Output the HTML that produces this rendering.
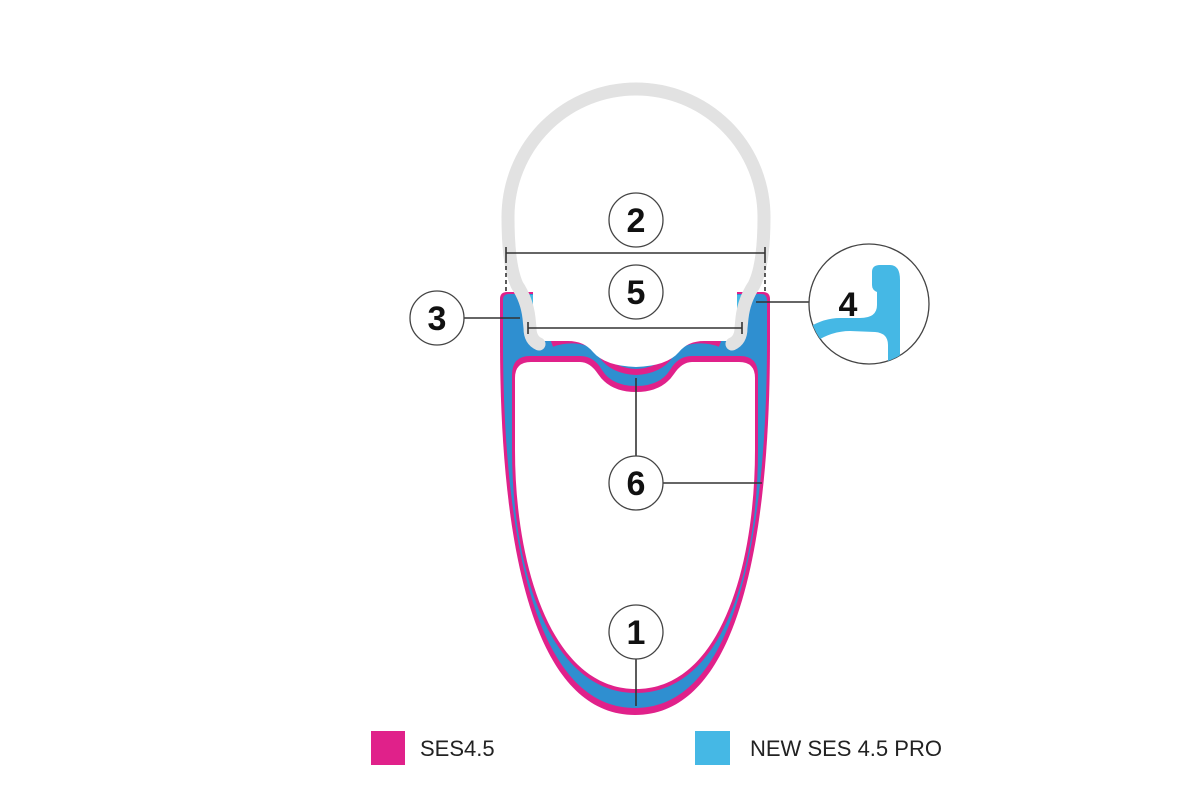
<!DOCTYPE html>
<html><head><meta charset="utf-8"><style>
html,body{margin:0;padding:0;background:#fff;}
svg{display:block}
</style></head><body>
<svg width="1200" height="800" viewBox="0 0 1200 800" xmlns="http://www.w3.org/2000/svg">
<defs><clipPath id="c4"><circle cx="869" cy="304" r="60"/></clipPath></defs>
<path d="M500,299 Q500,292 507,292 L763,292 Q770,292 770,299 L770,340 C770,500 750,715 635,715 C520,715 500,500 500,340 Z" fill="#e0218a"/>
<path d="M503,300 Q503,294 509,294 L761,294 Q767,294 767,300 L767,340 C767,498 746,708 635,708 C524,708 503,498 503,340 Z" fill="#2f8fd0"/>
<rect x="527" y="295" width="7" height="16" fill="#45b8e5"/>
<rect x="736" y="295" width="7" height="16" fill="#45b8e5"/>
<path d="M552,344 Q565,339 580,341 Q594,343 602,356 Q613,371 636,372 Q659,371 670,356 Q678,343 692,341 Q707,339 720,344" fill="none" stroke="#e0218a" stroke-width="6"/>
<path d="M533,288 L737,288 L737,336 Q737,341 729,341 L704,341 Q688,341 679,352 Q667,366 636,367 Q605,366 593,352 Q584,341 568,341 L541,341 Q533,341 533,336 Z" fill="#fff"/>
<path d="M512,375 Q512,356 530,356 L580,356 Q594,356 602,370 Q612,386 636,386 Q660,386 670,370 Q678,356 692,356 L740,356 Q758,356 758,375 L758,450 C758,565 724,693 636,693 C548,693 512,565 512,450 Z" fill="#e0218a"/>
<path d="M515,378 Q515,362 531,362 L580,362 Q590,362 598,374 Q610,392 636,392 Q662,392 674,374 Q682,362 692,362 L739,362 Q755,362 755,378 L755,450 C755,565 721,689 636,689 C551,689 515,565 515,450 Z" fill="#fff"/>
<path d="M539,344 Q530,340 530,328 L529,318 Q527,300 517,285 Q508,265 508,217 A128 128 0 0 1 764,217 Q764,265 754,285 Q744,300 742,318 L741,328 Q741,340 732,344" fill="none" stroke="#e2e2e2" stroke-width="13" stroke-linejoin="round" stroke-linecap="round"/>
<g stroke="#333" stroke-width="1.6" fill="none">
<line x1="506" y1="253" x2="765" y2="253"/>
<line x1="506" y1="247" x2="506" y2="259"/>
<line x1="765" y1="247" x2="765" y2="259"/>
<line x1="506" y1="259" x2="506" y2="292" stroke-dasharray="4,3"/>
<line x1="765" y1="259" x2="765" y2="292" stroke-dasharray="4,3"/>
<line x1="528" y1="328" x2="742" y2="328"/>
<line x1="528" y1="322" x2="528" y2="334"/>
<line x1="742" y1="322" x2="742" y2="334"/>
<line x1="464" y1="318" x2="520" y2="318"/>
<line x1="756" y1="302" x2="809" y2="302"/>
<line x1="636" y1="378" x2="636" y2="456"/>
<line x1="663" y1="483" x2="762" y2="483"/>
<line x1="636" y1="659" x2="636" y2="706"/>
</g>
<g fill="#fff" stroke="#444" stroke-width="1.3">
<circle cx="636" cy="220" r="27"/>
<circle cx="636" cy="292" r="27"/>
<circle cx="437" cy="318" r="27"/>
<circle cx="636" cy="483" r="27"/>
<circle cx="636" cy="632" r="27"/>
<circle cx="869" cy="304" r="60"/>
</g>
<g clip-path="url(#c4)">
<path d="M872,272 Q872,265 880,265 L890,265 Q900,265 900,280 L900,370 L888,370 L888,345 Q888,333 875,332 L850,331 Q832,331 815,342 L805,345 L805,330 Q822,318 840,318 L860,318 Q877,318 877,305 L877,292 Q872,290 872,285 Z" fill="#45b8e5"/>
</g>
<g font-family="Liberation Sans, sans-serif" font-weight="bold" font-size="34" text-anchor="middle" fill="#111">
<text x="636" y="232">2</text>
<text x="636" y="304">5</text>
<text x="437" y="330">3</text>
<text x="636" y="495">6</text>
<text x="636" y="644">1</text>
<text x="848" y="316">4</text>
</g>
<rect x="371" y="731" width="34" height="34" fill="#e0218a"/>
<rect x="695" y="731" width="35" height="34" fill="#45b8e5"/>
<g font-family="Liberation Sans, sans-serif" font-size="22" fill="#222">
<text x="420" y="756">SES4.5</text>
<text x="750" y="756">NEW SES 4.5 PRO</text>
</g>
</svg>
</body></html>
